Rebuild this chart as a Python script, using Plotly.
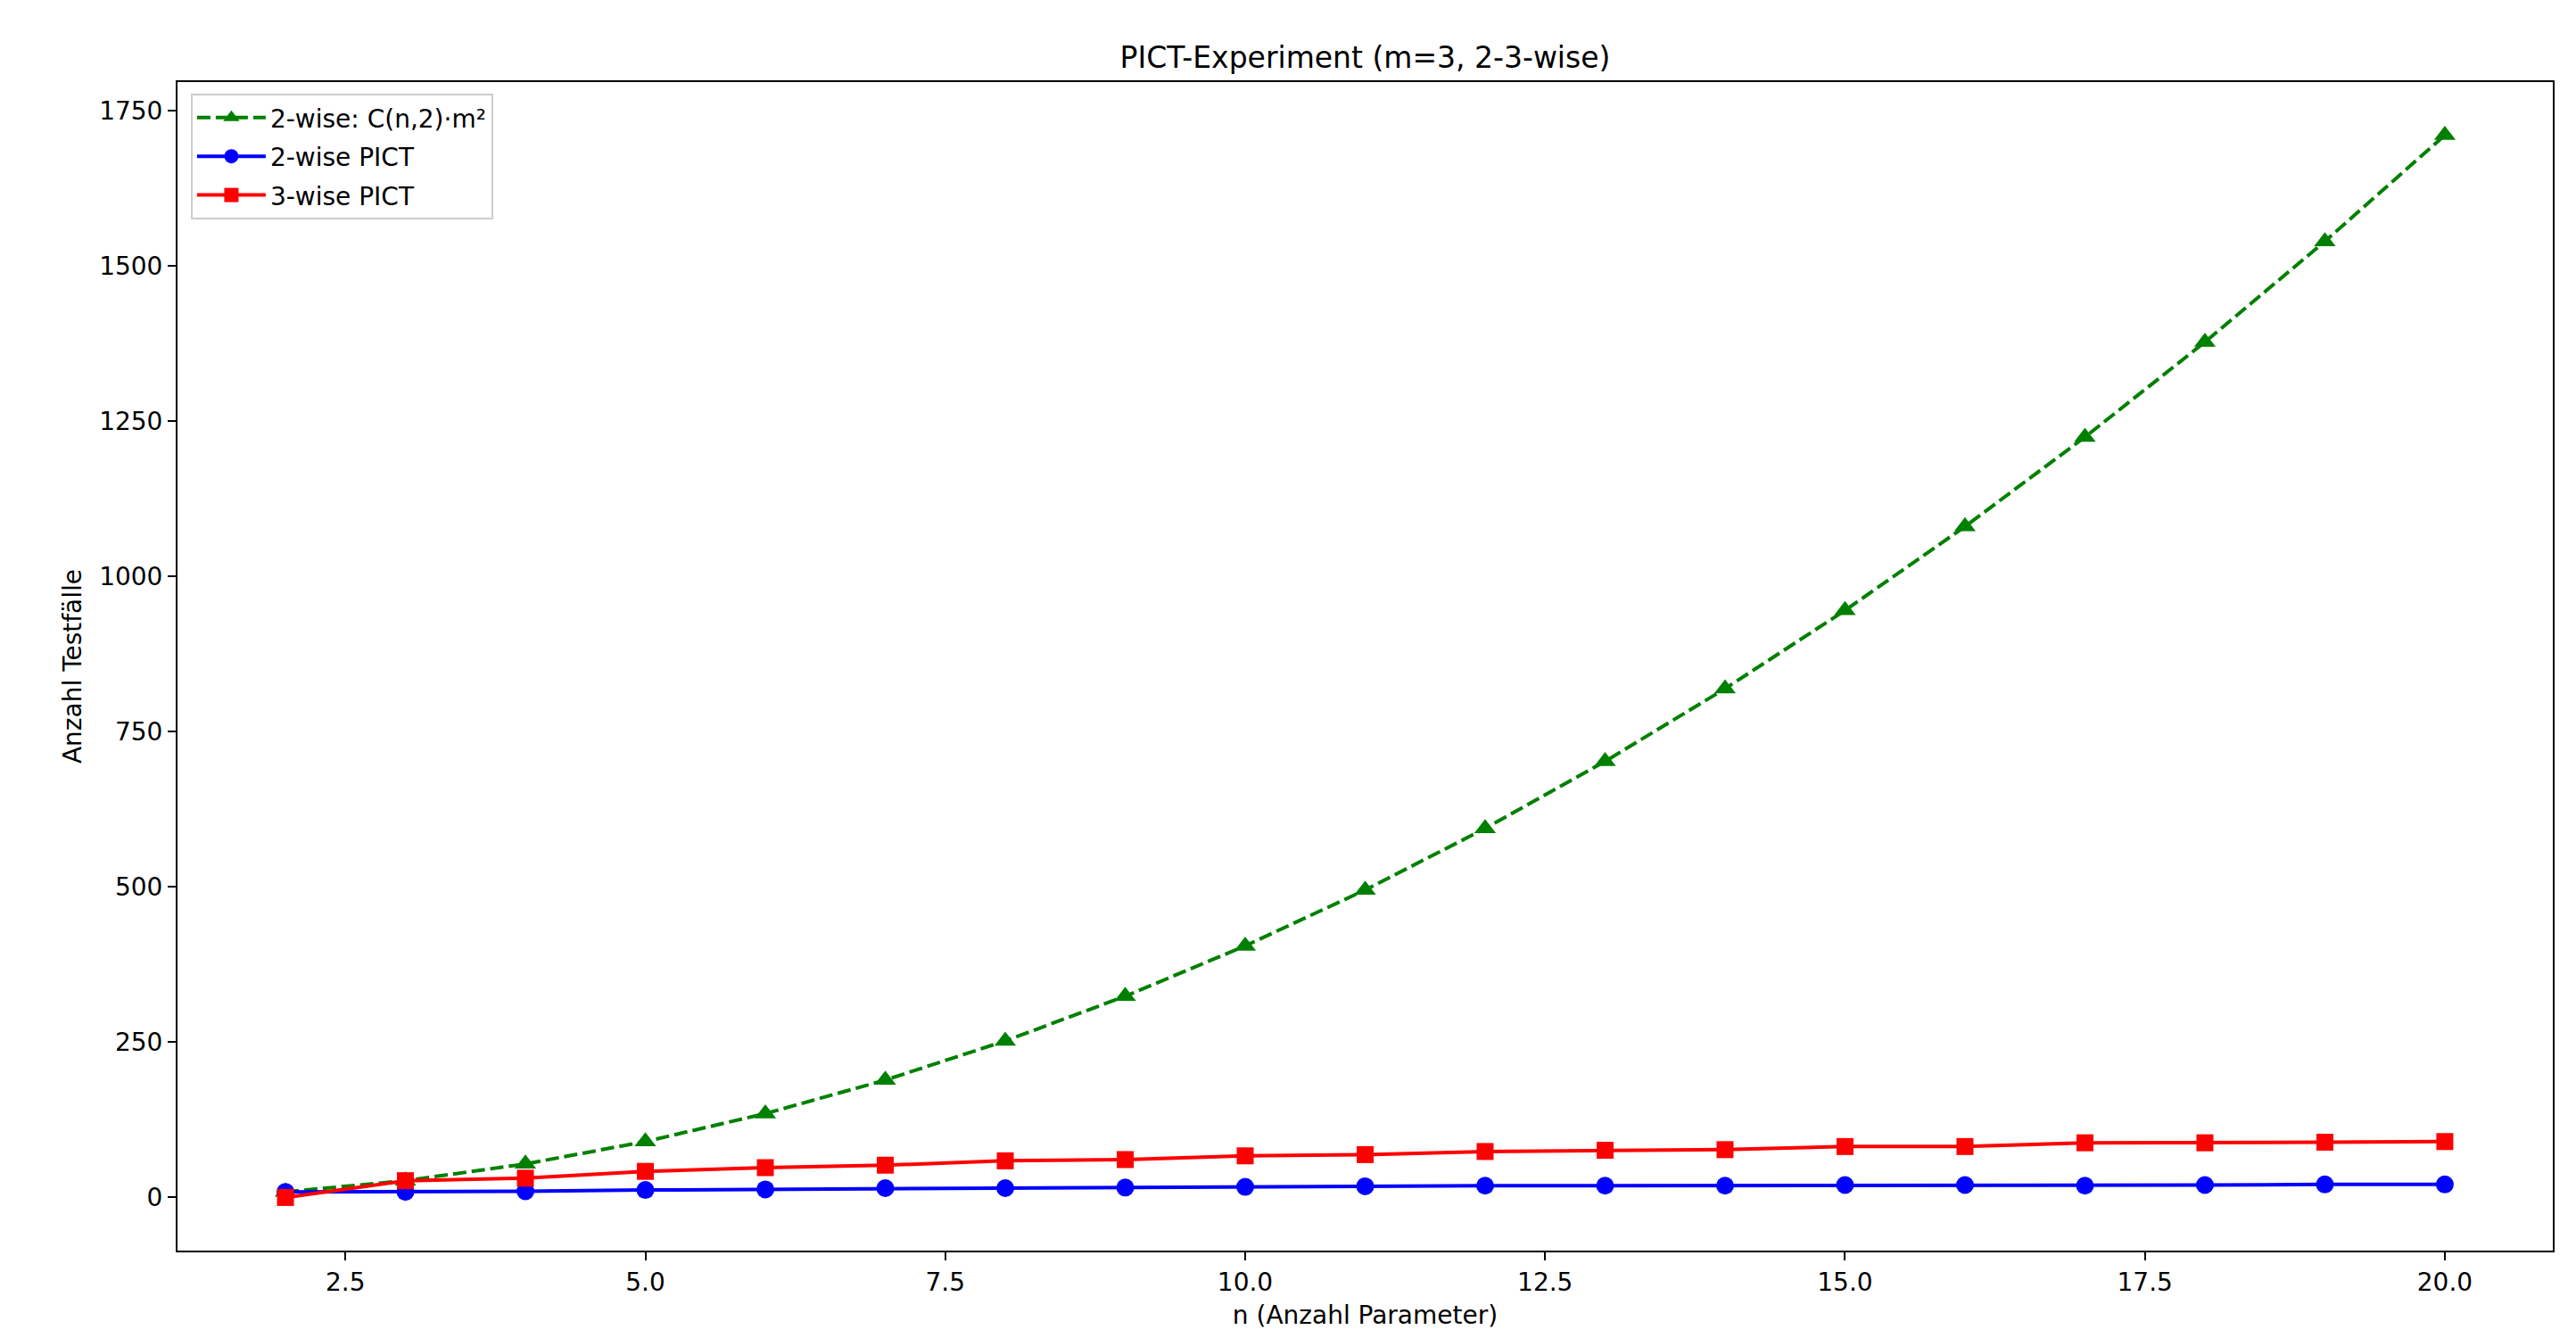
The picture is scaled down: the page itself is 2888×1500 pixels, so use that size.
import plotly.graph_objects as go

# Data
n_values = list(range(2, 21))
formula_2wise = [9, 27, 54, 90, 135, 189, 252, 324, 405, 495, 594, 702, 819, 945, 1080, 1224, 1377, 1539, 1710]
pict_2wise = [9, 9, 10, 12, 13, 15, 15, 16, 17, 18, 19, 19, 19, 20, 20, 19, 20, 21, 21]
pict_3wise = [0, 27, 31, 42, 48, 52, 59, 61, 67, 69, 74, 76, 77, 82, 82, 88, 88, 89, 90]

x_ticks = [2.5, 5.0, 7.5, 10.0, 12.5, 15.0, 17.5, 20.0]
y_ticks = [0, 250, 500, 750, 1000, 1250, 1500, 1750]

FONT = "DejaVu Sans"

fig = go.Figure()
fig.add_trace(go.Scatter(
    x=n_values, y=formula_2wise, mode="lines+markers",
    name="2-wise: C(n,2)·m²", legendgroup="a",
    line=dict(color="#008000", width=4, dash="15px,6px"),
    marker=dict(symbol="triangle-up", size=21, color="#008000"),
))
fig.add_trace(go.Scatter(
    x=n_values, y=pict_2wise, mode="lines+markers",
    name="2-wise PICT", legendgroup="b",
    line=dict(color="#0000ff", width=4),
    marker=dict(symbol="circle", size=20, color="#0000ff"),
))
fig.add_trace(go.Scatter(
    x=n_values, y=pict_3wise, mode="lines+markers",
    name="3-wise PICT", legendgroup="c",
    line=dict(color="#ff0000", width=4),
    marker=dict(symbol="square", size=19, color="#ff0000"),
))

axis_common = dict(
    showgrid=False, zeroline=False, showline=True, linecolor="black",
    linewidth=2, mirror=True, ticks="outside", ticklen=9, tickwidth=1.5,
    tickcolor="black", tickfont=dict(family=FONT, size=28, color="black"),
)

fig.update_layout(
    width=2888, height=1500,
    margin=dict(l=199, r=26, t=92, b=98, autoexpand=False),
    paper_bgcolor="white", plot_bgcolor="white",
    font=dict(family=FONT, size=28, color="black"),
    title=dict(text="PICT-Experiment (m=3, 2-3-wise)", x=0.5, xref="paper",
               xanchor="center", y=1 - 64 / 1500, yanchor="middle",
               font=dict(family=FONT, size=33, color="black")),
    xaxis=dict(range=[1.1, 20.9], tickvals=x_ticks,
               ticktext=[f"{v:.1f}" for v in x_ticks],
               title=dict(text="n (Anzahl Parameter)", standoff=12,
                          font=dict(family=FONT, size=28)),
               **axis_common),
    yaxis=dict(range=[-85.5, 1795.5], tickvals=y_ticks,
               ticktext=[str(v) for v in y_ticks],
               title=dict(text="Anzahl Testfälle", standoff=11,
                          font=dict(family=FONT, size=28)),
               **axis_common),
    showlegend=True,
    legend=dict(x=0.0056, y=0.99, xanchor="left", yanchor="top",
                bgcolor="rgba(255,255,255,0.8)", bordercolor="#cccccc",
                borderwidth=2, font=dict(family=FONT, size=28),
                itemwidth=77, tracegroupgap=4),
)

fig.write_html("out.html")
